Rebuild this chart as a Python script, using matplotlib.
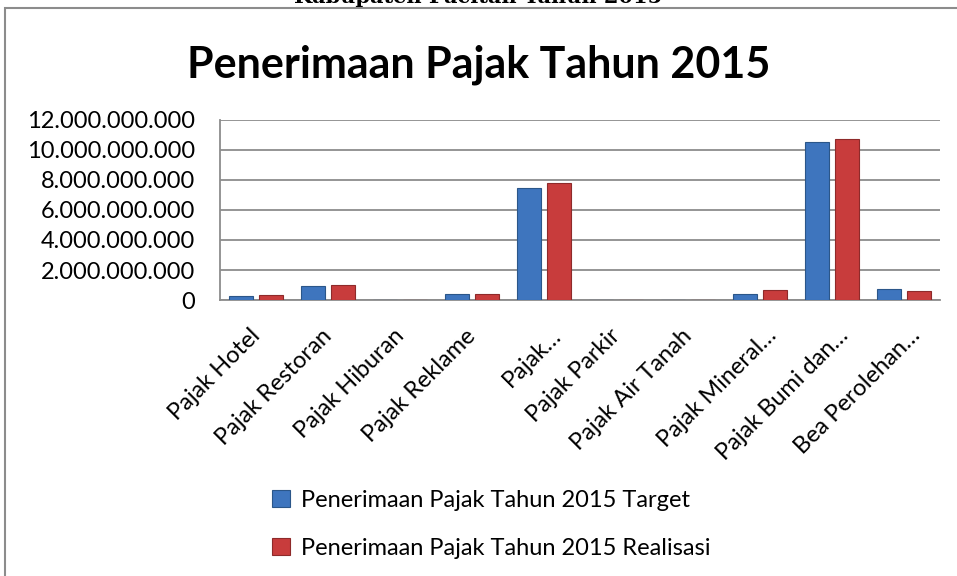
import matplotlib.pyplot as plt
import numpy as np
from matplotlib.ticker import FuncFormatter
from matplotlib.patches import Rectangle
from matplotlib.transforms import ScaledTranslation

plt.rcParams['font.family'] = ['Lato', 'DejaVu Sans']

# categories and values (rupiah)
kategori = ['Pajak Hotel', 'Pajak Restoran', 'Pajak Hiburan', 'Pajak Reklame',
            'Pajak…', 'Pajak Parkir', 'Pajak Air Tanah', 'Pajak Mineral…',
            'Pajak Bumi dan…', 'Bea Perolehan…']
target = [0.28e9, 0.96e9, 0.01e9, 0.42e9, 7.45e9, 0.01e9, 0.01e9, 0.40e9, 10.51e9, 0.74e9]
realisasi = [0.35e9, 1.03e9, 0.01e9, 0.42e9, 7.78e9, 0.01e9, 0.01e9, 0.69e9, 10.71e9, 0.61e9]
seri = ['Penerimaan Pajak Tahun 2015 Target', 'Penerimaan Pajak Tahun 2015 Realisasi']

biru = '#3e75be'
merah = '#c83c3c'

fig = plt.figure(figsize=(9.57, 5.76), dpi=100)
ax = fig.add_axes([0.23, 0.479, 0.752, 0.313])

x = np.arange(len(kategori))
w = 0.33
b1 = ax.bar(x - 0.63 * w, target, w, color=biru, edgecolor='#2b5689', lw=0.8, zorder=3, label=seri[0])
b2 = ax.bar(x + 0.63 * w, realisasi, w, color=merah, edgecolor='#8e2a2a', lw=0.8, zorder=3, label=seri[1])

ax.set_xlim(-0.5, len(kategori) - 0.5)
ax.set_ylim(0, 12e9)
ax.set_yticks(np.arange(0, 12.01e9, 2e9))
ax.yaxis.set_major_formatter(FuncFormatter(lambda v, p: f'{int(v):,}'.replace(',', '.')))
ax.grid(axis='y', color='#8c8c8c', lw=1.3, zorder=0)
for s in ['top', 'right']:
    ax.spines[s].set_visible(False)
ax.spines['left'].set_color('#8c8c8c')
ax.spines['bottom'].set_color('#8c8c8c')
ax.spines['left'].set_linewidth(1.3)
ax.spines['bottom'].set_linewidth(1.3)
ax.tick_params(axis='y', length=0, labelsize=17, pad=18)
ax.tick_params(axis='x', length=0, pad=18)
ax.set_xticks(x)
ax.set_xticklabels(kategori, rotation=45, ha='right', rotation_mode='anchor', fontsize=17)
# truncated labels sit a bit further right, like the Excel original
for t in ax.get_xticklabels():
    dx = 6 if t.get_text().endswith('…') else -7
    t.set_transform(t.get_transform() + ScaledTranslation(dx / 100, 0, fig.dpi_scale_trans))

fig.text(0.5, 0.887, 'Penerimaan Pajak Tahun 2015', ha='center', va='center',
         fontsize=31, fontweight='bold')
fig.text(0.5, 1.005, 'Kabupaten Pacitan Tahun 2015', ha='center', va='center',
         fontsize=15, fontweight='bold', family='DejaVu Serif')

# outer chart frame
fig.patches.append(Rectangle((5 / 957, -0.1), 1.2, 1 - 8 / 576 + 0.1, transform=fig.transFigure,
                             fill=False, edgecolor='#8c8c8c', lw=1.5))

fig.legend(handles=[b1, b2], labels=seri, loc='center left', bbox_to_anchor=(0.262, 0.090),
           frameon=False, fontsize=17, handlelength=0.75, handleheight=0.75,
           handletextpad=0.5, labelspacing=1.15)

fig.savefig('out.png', dpi=100)
